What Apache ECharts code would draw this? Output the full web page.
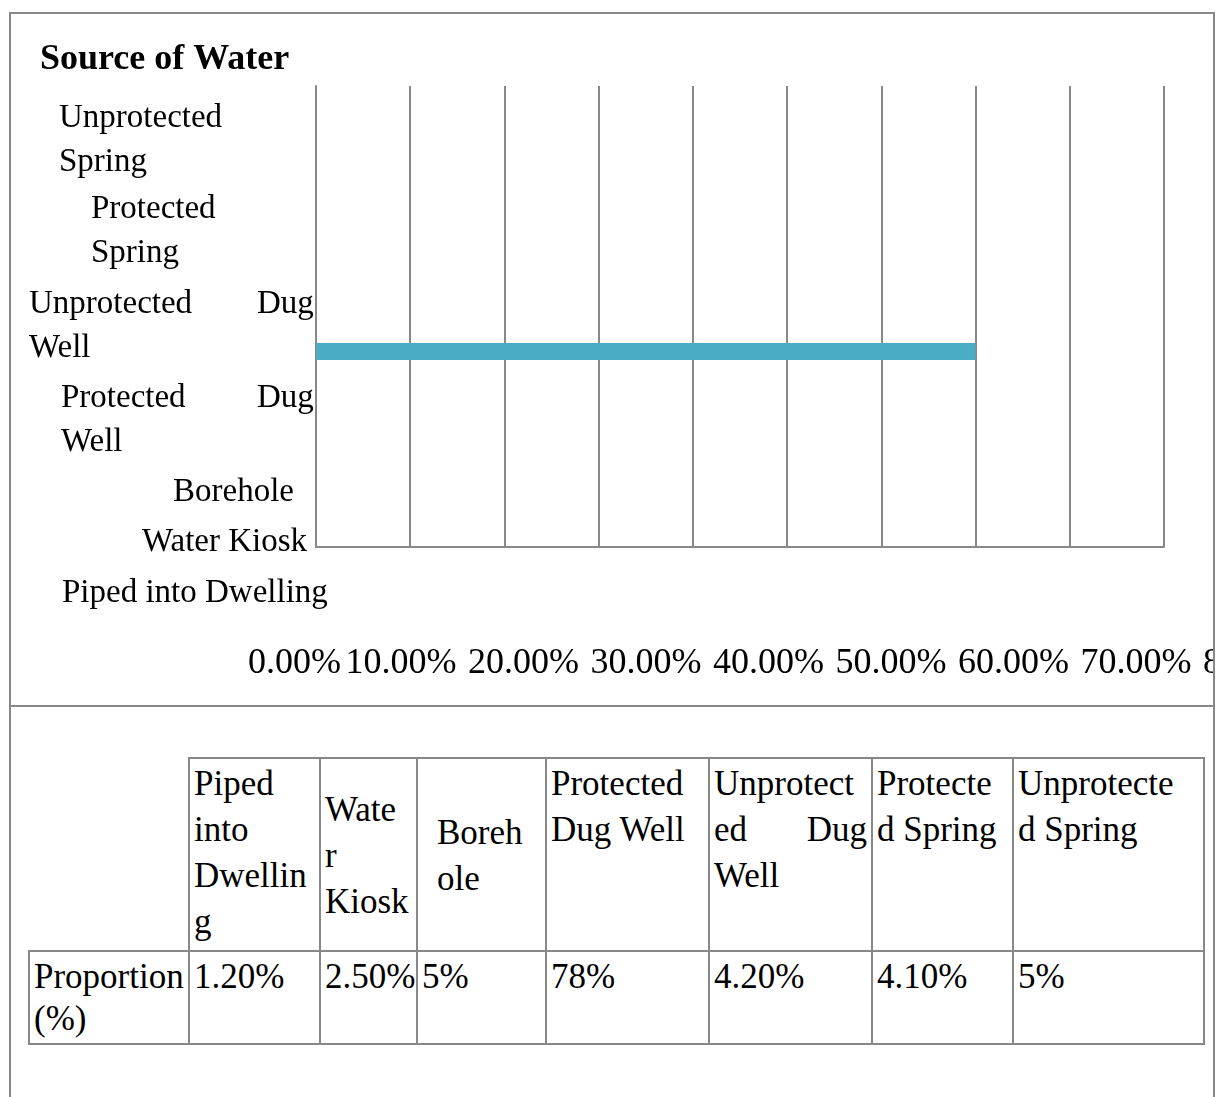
<!DOCTYPE html>
<html>
<head>
<meta charset="utf-8">
<title>Source of Water</title>
<script src="https://cdn.jsdelivr.net/npm/echarts@6/dist/echarts.min.js"></script>
<style>
  html, body { margin: 0; padding: 0; overflow: hidden; background: #fff; }
  body { font-family: 'Liberation Serif', serif; color: #000; }
  .frame {
    position: absolute; left: 9px; top: 12px; width: 1206px; height: 1100px;
    box-sizing: border-box; border: 2px solid #888; border-bottom: none;
  }
  .divider { position: absolute; left: 9px; top: 705px; width: 1206px; height: 2px; background: #888; }
  #chart { position: absolute; left: 0; top: 0; width: 1213px; height: 705px; }
  #table {
    position: absolute; left: 28px; top: 757px; width: 1175px;
    border-collapse: collapse; table-layout: fixed; font-size: 35px;
  }
  #table td {
    border: 2px solid #888; padding: 2px 4px 0 4px; vertical-align: top;
    white-space: nowrap; overflow: visible;
  }
  #table tr.head td { height: 189px; line-height: 46px; }
  #table tr.vals td { height: 87px; line-height: 42px; padding-top: 4px; }
  #table td.corner { border-top: none; border-left: none; }
  #table td.mid { vertical-align: middle; }
  #table td.indent { padding-left: 19px; }
  #table .jl { text-align: justify; text-align-last: justify; white-space: normal; }
</style>
</head>
<body>
<div class="frame"></div>
<div class="divider"></div>
<div id="chart"></div>
<table id="table"></table>

<script>
// categories, bottom to top as the chart lists them
const categories = ['Piped into Dwelling', 'Water Kiosk', 'Borehole', 'Protected Dug Well',
  'Unprotected Dug Well', 'Protected Spring', 'Unprotected Spring'];

// only one bar is drawn in the picture
const barCategories = ['Protected Dug Well'];
const barValues = [0.70];

// x tick labels as printed under the chart
const xTickLabels = ['0.00%', '10.00%', '20.00%', '30.00%', '40.00%', '50.00%', '60.00%', '70.00%', '80.00%'];

// table under the chart
const tableHeaderLines = [
  ['Piped', 'into', 'Dwellin', 'g'],
  ['Wate', 'r', 'Kiosk'],
  ['Boreh', 'ole'],
  ['Protected', 'Dug Well'],
  ['Unprotect', 'ed Dug', 'Well'],
  ['Protecte', 'd Spring'],
  ['Unprotecte', 'd Spring']
];
const rowLabelLines = ['Proportion', '(%)'];
const tableValues = ['1.20%', '2.50%', '5%', '78%', '4.20%', '4.10%', '5%'];

const FONT = 'Liberation Serif';
const GRID_COLOR = '#888';
const BAR_COLOR = '#4BACC6';

// y labels are wrapped and pushed around like in the original
const yLabelMarkup = {
  'Unprotected Spring': '{t|Unprotected}\n{t|Spring}',
  'Protected Spring': '{t|Protected}\n{t|Spring}',
  'Unprotected Dug Well': '{u|Unprotected}{t|Dug}\n{t|Well}',
  'Protected Dug Well': '{p|Protected}{t|Dug}\n{t|Well}'
};
const labelPadTop = [158, 189, 220, 208, 151, 94, 42];
const labelPadLeft = [33, 113, 144, 32, 0, 62, 30];

const chart = echarts.init(document.getElementById('chart'));

const labelText = { fontFamily: FONT, fontSize: 33, lineHeight: 44, color: '#000' };

chart.setOption({
  animation: false,
  title: {
    text: 'Source of Water',
    left: 40,
    top: 42,
    padding: 0,
    textStyle: { fontFamily: FONT, fontSize: 36, fontWeight: 'bold', color: '#000' }
  },
  grid: [
    { left: 316, top: 86, width: 848, height: 461, outerBoundsMode: 'none' },
    { left: 278.5, top: 600, width: 980, height: 40, outerBoundsMode: 'none' }
  ],
  xAxis: [
    {
      type: 'value',
      gridIndex: 0,
      min: 0,
      max: 0.9,
      interval: 0.1,
      axisLabel: { show: false },
      axisTick: { show: false },
      axisLine: { show: true, lineStyle: { color: GRID_COLOR, width: 2 } },
      splitLine: { show: true, lineStyle: { color: GRID_COLOR, width: 2 } }
    },
    {
      type: 'category',
      gridIndex: 1,
      data: xTickLabels,
      boundaryGap: false,
      axisLine: { show: false },
      axisTick: { show: false },
      splitLine: { show: false },
      axisLabel: {
        interval: 0,
        margin: 6,
        hideOverlap: false,
        showMinLabel: true,
        showMaxLabel: true,
        fontFamily: FONT,
        fontSize: 36,
        color: '#000',
        formatter: (v, i) => i === 0 ? '{z|' + v + '}' : '{n|' + v + '}',
        rich: {
          z: { fontFamily: FONT, fontSize: 36, color: '#000', padding: [0, 0, 0, 32] },
          n: { fontFamily: FONT, fontSize: 36, color: '#000' }
        }
      }
    }
  ],
  yAxis: [
    {
      type: 'category',
      gridIndex: 0,
      data: categories.map((c, i) => ({
        value: c,
        textStyle: {
          align: 'left',
          verticalAlign: 'middle',
          padding: [labelPadTop[i], 0, 0, labelPadLeft[i]]
        }
      })),
      axisTick: { show: false },
      axisLine: { show: true, lineStyle: { color: GRID_COLOR, width: 2 } },
      splitLine: { show: false },
      axisLabel: {
        interval: 0,
        margin: 287,
        align: 'left',
        verticalAlign: 'middle',
        hideOverlap: false,
        fontFamily: FONT,
        fontSize: 33,
        lineHeight: 44,
        color: '#000',
        formatter: v => yLabelMarkup[v] || '{t|' + v + '}',
        rich: {
          t: labelText,
          u: Object.assign({ width: 228 }, labelText),
          p: Object.assign({ width: 196 }, labelText)
        }
      }
    },
    { type: 'value', gridIndex: 1, show: false }
  ],
  series: [
    {
      // the single bar sits on the lower edge of its category band
      type: 'custom',
      xAxisIndex: 0,
      yAxisIndex: 0,
      data: barCategories.map((c, i) => [barValues[i], c]),
      renderItem: (params, api) => {
        const cat = api.value(1);
        const start = api.coord([0, cat]);
        const end = api.coord([api.value(0), cat]);
        const band = api.size([0, 1])[1];
        const h = 17;
        const y = start[1] + band / 2 + 2;
        return {
          type: 'rect',
          shape: { x: start[0], y: y - h / 2, width: end[0] - start[0], height: h },
          style: { fill: BAR_COLOR }
        };
      }
    }
  ]
});

// build the table
const colWidths = [160, 131, 97, 129, 163, 163, 141, 191];
const headClass = ['', 'mid', 'mid indent', '', '', '', ''];
const lineDivs = lines => lines.map((l, j) =>
  '<div class="' + (j < lines.length - 1 ? 'jl' : '') + '">' + l + '</div>').join('');

let html = '<colgroup>' + colWidths.map(w => '<col style="width:' + w + 'px">').join('') + '</colgroup>';
html += '<tr class="head"><td class="corner"></td>' +
  tableHeaderLines.map((lines, i) => '<td class="' + headClass[i] + '">' + lineDivs(lines) + '</td>').join('') +
  '</tr>';
html += '<tr class="vals"><td>' + rowLabelLines.map(l => '<div>' + l + '</div>').join('') + '</td>' +
  tableValues.map(v => '<td><div>' + v + '</div></td>').join('') + '</tr>';
document.getElementById('table').innerHTML = html;

window.addEventListener('resize', () => chart.resize());
</script>
</body>
</html>
